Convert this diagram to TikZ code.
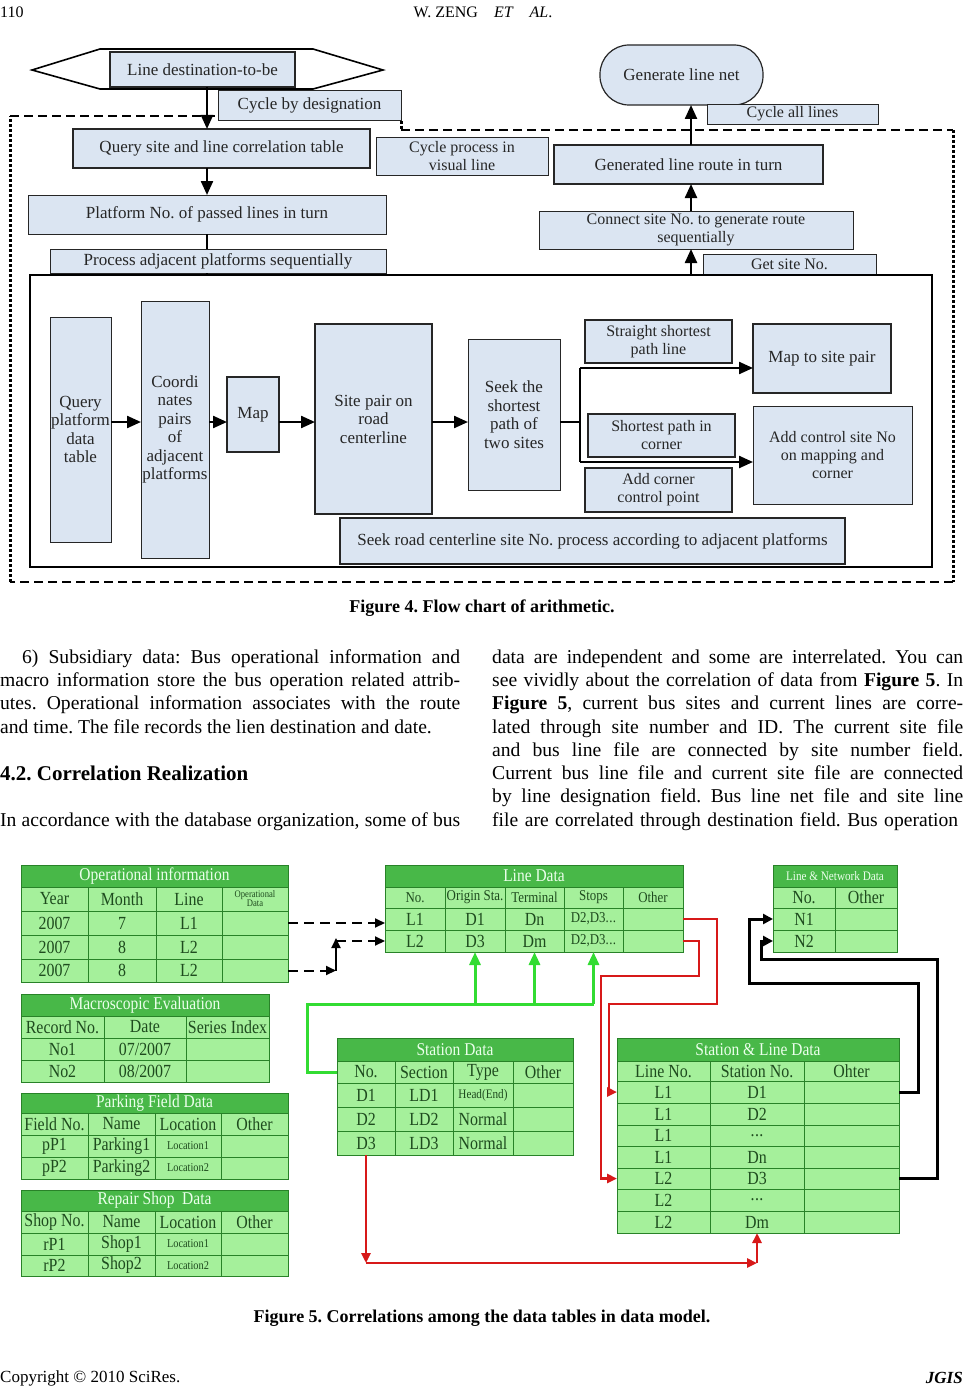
\documentclass[tikz,border=0pt]{standalone}
\usepackage{fontspec}
\setmainfont{Liberation Serif}
\newfontfamily\tabfont[FakeStretch=0.86]{Liberation Serif}
\usetikzlibrary{arrows.meta}
\definecolor{fcblue}{RGB}{219,229,242}
\definecolor{ttlg}{RGB}{72,184,72}
\definecolor{cellg}{RGB}{165,240,155}
\definecolor{gridg}{RGB}{40,130,40}
\definecolor{txtg}{RGB}{30,75,30}
\definecolor{garr}{RGB}{50,220,50}
\definecolor{rarr}{RGB}{215,25,25}
\newcommand\mkbox[7][]{\node[#1,minimum width={(#5-#3)*1pt},minimum height={(#6-#4)*1pt}] (#2) at ({(#3+#5)/2},{(#4+#6)/2}) {#7};}
\newcommand\threedots{.\kern0.5pt.\kern0.5pt.}
\frenchspacing
\begin{document}
\begin{tikzpicture}[x=1pt,y=-1pt,
 fcb/.style={draw=black!85, fill=fcblue, line width=0.9pt, inner sep=0pt, outer sep=0pt, align=center, text=black!85, font=\fontsize{17}{18.5}\selectfont},
 fcs/.style={fcb, font=\fontsize{16}{18}\selectfont},
 innerbox/.style={draw=black, line width=2.6pt, inner sep=0pt, outer sep=0pt},
 ttl/.style={draw=gridg, fill=ttlg, line width=0.8pt, inner sep=0pt, outer sep=0pt, text=white!92!green, font=\tabfont\fontsize{18}{18}\selectfont},
 ttlsmall/.style={ttl, font=\tabfont\fontsize{13}{14}\selectfont},
 tcell/.style={draw=gridg, fill=cellg, line width=0.8pt, inner sep=0pt, outer sep=0pt, align=center, text=txtg, font=\tabfont\fontsize{18.5}{18}\selectfont},
 tcellmid/.style={tcell, font=\tabfont\fontsize{15}{15}\selectfont},
 tcellsmall/.style={tcell, font=\tabfont\fontsize{12}{12}\selectfont},
 tcelltiny/.style={tcell, font=\tabfont\fontsize{10}{9}\selectfont},
 fcarr/.style={line width=2.3pt, -{Triangle[length=14pt,width=12pt]}},
 fcline/.style={line width=2.3pt},
 hdash/.style={line width=2.5pt, dash pattern=on 9pt off 5pt},
 vdash/.style={line width=3pt, dash pattern=on 3pt off 2pt},
 bdash/.style={line width=2pt, dash pattern=on 10pt off 6pt, -{Triangle[length=10pt,width=9pt]}},
 barr/.style={line width=2pt, -{Triangle[length=10pt,width=9pt]}},
 blkarr/.style={line width=3pt, -{Triangle[length=10pt,width=10pt]}},
 garrow/.style={draw=garr, line width=3pt, -{Triangle[length=13pt,width=11pt]}},
 gline/.style={draw=garr, line width=3pt},
 rline/.style={draw=rarr, line width=2.5pt, -{Triangle[length=10pt,width=9pt]}},
 bodytxt/.style={anchor=base west, inner sep=0pt, font=\fontsize{19.6}{23}\selectfont},
 captxt/.style={inner sep=0pt, font=\bfseries\fontsize{18}{20}\selectfont}
]
\fill[white] (0,0) rectangle (965,1386);
\useasboundingbox (0,0) rectangle (965,1386);

% ---------- header ----------
\node[anchor=west,inner sep=0pt,font=\fontsize{16}{16}\selectfont] (pgno) at (0,12) {110};
\node[inner sep=0pt,font=\fontsize{16}{16}\selectfont] (runhead) at (483,12) {W. ZENG\quad\textit{ET}\quad\textit{AL}.};

% ---------- Figure 4 ----------
\coordinate (d1) at (10,116); \coordinate (d2) at (216,116);
\coordinate (d3) at (401,121); \coordinate (d4) at (401,130);
\coordinate (d5) at (953,130); \coordinate (d6) at (953,582);
\coordinate (d7) at (10,582);
\draw[hdash] (d1) -- (d2);
\draw[vdash] (d3) -- (d4);
\draw[hdash] (d4) -- (d5);
\draw[vdash] (d5) -- (d6);
\draw[hdash] (d6) -- (d7);
\draw[vdash] (d7) -- (d1);

\draw[line width=1.6pt, fill=white] (32,70) -- (100,49) -- (313,49) -- (383,70) -- (313,89) -- (100,89) -- cycle;
\mkbox[fcb,line width=2.2pt]{ld}{110}{52}{295}{87}{Line destination-to-be}
\mkbox[fcb]{cbd}{218}{90}{401}{120}{Cycle by designation}
\mkbox[fcb,line width=1.5pt]{qs}{73}{129}{370}{168}{Query site and line correlation table}
\mkbox[fcb]{pn}{28}{195}{386}{234}{Platform No. of passed lines in turn}
\mkbox[fcb]{pa}{50}{249}{386}{273}{Process adjacent platforms sequentially}
\mkbox[fcs]{cpv}{376}{137}{548}{175}{Cycle process in\\visual line}
\mkbox[fcb,rounded corners=29pt,line width=1.2pt]{gln}{600}{45}{763}{105}{Generate line net}
\mkbox[fcs]{cal}{707}{104}{878}{124}{Cycle all lines}
\mkbox[fcb,line width=1.5pt]{glr}{554}{145}{823}{184}{Generated line route in turn}
\mkbox[fcs]{cs}{539}{211}{853}{249}{Connect site No. to generate route\\sequentially}
\mkbox[fcs]{gs}{703}{254}{876}{275}{Get site No.}
\mkbox[innerbox]{inner}{30}{275}{932}{567}{}

\mkbox[fcb]{qp}{50}{317}{111}{542}{Query\\platform\\data\\table}
\mkbox[fcb]{cp}{141}{301}{209}{558}{Coordi\\nates\\pairs\\of\\adjacent\\platforms}
\mkbox[fcb,line width=1.4pt]{mp}{227}{377}{279}{452}{Map}
\mkbox[fcb,line width=1.4pt]{sp}{315}{324}{432}{514}{Site pair on\\road\\centerline}
\mkbox[fcb]{sk}{468}{339}{560}{490}{Seek the\\shortest\\path of\\two sites}
\mkbox[fcb,line width=1.2pt]{sr}{340}{518}{845}{564}{Seek road centerline site No. process according to adjacent platforms}
\mkbox[fcs,line width=1.2pt]{ss}{585}{320}{732}{363}{Straight shortest\\path line}
\mkbox[fcb,line width=1.2pt]{mts}{753}{324}{891}{393}{Map to site pair}
\mkbox[fcs,line width=1.2pt]{spc}{588}{414}{735}{457}{Shortest path in\\corner}
\mkbox[fcs]{acs}{753}{406}{912}{504}{Add control site No\\on mapping and\\corner}
\mkbox[fcs,line width=1.2pt]{acc}{585}{468}{732}{512}{Add corner\\control point}

% Figure 4 connectors
\coordinate (ax) at (207,0);
\coordinate (rx) at (691,0);
\draw[fcarr] (ld.south -| ax) -- (qs.north -| ax);
\draw[fcarr] (qs.south -| ax) -- (pn.north -| ax);
\draw[fcline] (pn.south -| ax) -- (pa.north -| ax);
\draw[fcline] (pa.south -| ax) -- (inner.north -| ax);
\draw[fcarr] (inner.north -| rx) -- (cs.south -| rx);
\draw[fcarr] (cs.north -| rx) -- (glr.south -| rx);
\draw[fcarr] (glr.north -| rx) -- (gln.south -| rx);

\coordinate (ay) at (0,422);
\draw[fcarr] (qp.east |- ay) -- (cp.west |- ay);
\draw[fcarr] (cp.east |- ay) -- (mp.west |- ay);
\draw[fcarr] (mp.east |- ay) -- (sp.west |- ay);
\draw[fcarr] (sp.east |- ay) -- (sk.west |- ay);
\coordinate (bx) at (580,0);
\coordinate (by1) at (0,368);
\coordinate (by2) at (0,462);
\draw[fcline] (sk.east |- ay) -- (bx |- ay);
\draw[fcline] (bx |- by1) -- (bx |- by2);
\draw[fcarr] (bx |- by1) -- (mts.west |- by1);
\draw[fcarr] (bx |- by2) -- (acs.west |- by2);

\node[captxt] (cap4) at (482,608) {Figure 4. Flow chart of arithmetic.};

% ---------- body text ----------
\node[bodytxt] (l1) at (22,663) {\makebox[438pt][s]{6) Subsidiary data: Bus operational information and}};
\node[bodytxt] (l2) at (0,686) {\makebox[460pt][s]{macro information store the bus operation related attrib-}};
\node[bodytxt] (l3) at (0,709) {\makebox[460pt][s]{utes. Operational information associates with the route}};
\node[bodytxt] (l4) at (0,733) {and time. The file records the lien destination and date.};
\node[bodytxt,font=\bfseries\fontsize{21}{23}\selectfont] (h42) at (0,780) {4.2. Correlation Realization};
\node[bodytxt] (l5) at (0,826) {\makebox[460pt][s]{In accordance with the database organization, some of bus}};

\node[bodytxt] (r1) at (492,663) {\makebox[471pt][s]{data are independent and some are interrelated. You can}};
\node[bodytxt] (r2) at (492,686.3) {\makebox[471pt][s]{see vividly about the correlation of data from \textbf{Figure 5}. In}};
\node[bodytxt] (r3) at (492,709.6) {\makebox[471pt][s]{\textbf{Figure 5}, current bus sites and current lines are corre-}};
\node[bodytxt] (r4) at (492,733) {\makebox[471pt][s]{lated through site number and ID. The current site file}};
\node[bodytxt] (r5) at (492,756.2) {\makebox[471pt][s]{and bus line file are connected by site number field.}};
\node[bodytxt] (r6) at (492,779.5) {\makebox[471pt][s]{Current bus line file and current site file are connected}};
\node[bodytxt] (r7) at (492,802.8) {\makebox[471pt][s]{by line designation field. Bus line net file and site line}};
\node[bodytxt] (r8) at (492,826) {\makebox[466pt][s]{file are correlated through destination field. Bus operation}};

% ---------- Figure 5 tables ----------
% Operational information
\mkbox[ttl]{opT}{21}{865}{288}{887}{Operational information}
\foreach \a/\b/\t [count=\cj] in {21/88/Year,88/156/Month,156/222/Line}
  {\mkbox[tcell]{op-0-\cj}{\a}{887}{\b}{911}{\t}}
\mkbox[tcelltiny]{op-0-4}{222}{887}{288}{911}{Operational\\Data}
\foreach \ya/\yb/\m/\q [count=\ri] in {911/935/7/L1,935/959/8/L2,959/982/8/L2}{
  \mkbox[tcell]{op-\ri-1}{21}{\ya}{88}{\yb}{2007}
  \mkbox[tcell]{op-\ri-2}{88}{\ya}{156}{\yb}{\m}
  \mkbox[tcell]{op-\ri-3}{156}{\ya}{222}{\yb}{\q}
  \mkbox[tcell]{op-\ri-4}{222}{\ya}{288}{\yb}{}
}
% Macroscopic Evaluation
\mkbox[ttl]{meT}{21}{994}{269}{1016}{Macroscopic Evaluation}
\mkbox[tcell]{me-0-1}{21}{1016}{104}{1038}{Record No.}
\mkbox[tcell]{me-0-2}{104}{1016}{186}{1038}{Date}
\mkbox[tcell]{me-0-3}{186}{1016}{269}{1038}{Series Index}
\mkbox[tcell]{me-1-1}{21}{1038}{104}{1060}{No1}
\mkbox[tcell]{me-1-2}{104}{1038}{186}{1060}{07/2007}
\mkbox[tcell]{me-1-3}{186}{1038}{269}{1060}{}
\mkbox[tcell]{me-2-1}{21}{1060}{104}{1082}{No2}
\mkbox[tcell]{me-2-2}{104}{1060}{186}{1082}{08/2007}
\mkbox[tcell]{me-2-3}{186}{1060}{269}{1082}{}
% Parking Field Data
\mkbox[ttl]{pfT}{21}{1093}{288}{1113}{Parking Field Data}
\mkbox[tcell]{pf-0-1}{21}{1113}{88}{1135}{Field No.}
\mkbox[tcell]{pf-0-2}{88}{1113}{155}{1135}{Name}
\mkbox[tcell]{pf-0-3}{155}{1113}{221}{1135}{Location}
\mkbox[tcell]{pf-0-4}{221}{1113}{288}{1135}{Other}
\foreach \ya/\yb/\m/\q/\n [count=\ri] in {1135/1157/pP1/Parking1/Location1,1157/1179/pP2/Parking2/Location2}{
  \mkbox[tcell]{pf-\ri-1}{21}{\ya}{88}{\yb}{\m}
  \mkbox[tcell]{pf-\ri-2}{88}{\ya}{155}{\yb}{\q}
  \mkbox[tcellsmall]{pf-\ri-3}{155}{\ya}{221}{\yb}{\n}
  \mkbox[tcell]{pf-\ri-4}{221}{\ya}{288}{\yb}{}
}
% Repair Shop Data
\mkbox[ttl]{rsT}{21}{1190}{288}{1211}{Repair Shop\ \ Data}
\mkbox[tcell]{rs-0-1}{21}{1211}{88}{1233}{Shop No.}
\mkbox[tcell]{rs-0-2}{88}{1211}{155}{1233}{Name}
\mkbox[tcell]{rs-0-3}{155}{1211}{221}{1233}{Location}
\mkbox[tcell]{rs-0-4}{221}{1211}{288}{1233}{Other}
\foreach \ya/\yb/\m/\q/\n [count=\ri] in {1233/1255/rP1/Shop1/Location1,1255/1276/rP2/Shop2/Location2}{
  \mkbox[tcell]{rs-\ri-1}{21}{\ya}{88}{\yb}{\m}
  \mkbox[tcell]{rs-\ri-2}{88}{\ya}{155}{\yb}{\q}
  \mkbox[tcellsmall]{rs-\ri-3}{155}{\ya}{221}{\yb}{\n}
  \mkbox[tcell]{rs-\ri-4}{221}{\ya}{288}{\yb}{}
}
% Line Data
\mkbox[ttl]{ldT}{385}{865}{683}{887}{Line Data}
\mkbox[tcellmid]{ld-0-1}{385}{887}{445}{908}{No.}
\mkbox[tcellmid]{ld-0-2}{445}{887}{505}{908}{Origin Sta.}
\mkbox[tcellmid]{ld-0-3}{505}{887}{564}{908}{Terminal}
\mkbox[tcellmid]{ld-0-4}{564}{887}{623}{908}{Stops}
\mkbox[tcellmid]{ld-0-5}{623}{887}{683}{908}{Other}
\foreach \ya/\yb/\m/\q/\n [count=\ri] in {908/930/L1/D1/Dn,930/952/L2/D3/Dm}{
  \mkbox[tcell]{ld-\ri-1}{385}{\ya}{445}{\yb}{\m}
  \mkbox[tcell]{ld-\ri-2}{445}{\ya}{505}{\yb}{\q}
  \mkbox[tcell]{ld-\ri-3}{505}{\ya}{564}{\yb}{\n}
  \mkbox[tcellmid]{ld-\ri-4}{564}{\ya}{623}{\yb}{D2,D3\threedots}
  \mkbox[tcell]{ld-\ri-5}{623}{\ya}{683}{\yb}{}
}
% Line & Network Data
\mkbox[ttlsmall]{lnT}{773}{865}{897}{887}{Line \& Network Data}
\mkbox[tcell]{ln-0-1}{773}{887}{835}{908}{No.}
\mkbox[tcell]{ln-0-2}{835}{887}{897}{908}{Other}
\mkbox[tcell]{ln-1-1}{773}{908}{835}{930}{N1}
\mkbox[tcell]{ln-1-2}{835}{908}{897}{930}{}
\mkbox[tcell]{ln-2-1}{773}{930}{835}{952}{N2}
\mkbox[tcell]{ln-2-2}{835}{930}{897}{952}{}
% Station Data
\mkbox[ttl]{sdT}{337}{1038}{573}{1061}{Station Data}
\mkbox[tcell]{sd-0-1}{337}{1061}{395}{1083}{No.}
\mkbox[tcell]{sd-0-2}{395}{1061}{453}{1083}{Section}
\mkbox[tcell]{sd-0-3}{453}{1061}{513}{1083}{Type}
\mkbox[tcell]{sd-0-4}{513}{1061}{573}{1083}{Other}
\foreach \ya/\yb/\m/\q [count=\ri] in {1083/1107/D1/LD1,1107/1131/D2/LD2,1131/1155/D3/LD3}{
  \mkbox[tcell]{sd-\ri-1}{337}{\ya}{395}{\yb}{\m}
  \mkbox[tcell]{sd-\ri-2}{395}{\ya}{453}{\yb}{\q}
  \mkbox[tcell]{sd-\ri-3}{453}{\ya}{513}{\yb}{}
  \mkbox[tcell]{sd-\ri-4}{513}{\ya}{573}{\yb}{}
}
\node[tcellsmall,draw=none,fill=none,font=\tabfont\fontsize{13}{13}\selectfont] (sdty1) at (sd-1-3) {Head(End)};
\node[tcell,draw=none,fill=none] (sdty2) at (sd-2-3) {Normal};
\node[tcell,draw=none,fill=none] (sdty3) at (sd-3-3) {Normal};
% Station & Line Data
\mkbox[ttl]{slT}{617}{1038}{899}{1061}{Station \& Line Data}
\mkbox[tcell]{sl-0-1}{617}{1061}{710}{1081}{Line No.}
\mkbox[tcell]{sl-0-2}{710}{1061}{804}{1081}{Station No.}
\mkbox[tcell]{sl-0-3}{804}{1061}{899}{1081}{Ohter}
\foreach \ya/\yb/\m/\q [count=\ri] in {1081/1103/L1/D1,1103/1125/L1/D2,1125/1146/L1/\threedots,1146/1168/L1/Dn,1168/1189/L2/D3,1189/1211/L2/\threedots,1211/1233/L2/Dm}{
  \mkbox[tcell]{sl-\ri-1}{617}{\ya}{710}{\yb}{\m}
  \mkbox[tcell]{sl-\ri-2}{710}{\ya}{804}{\yb}{\q}
  \mkbox[tcell]{sl-\ri-3}{804}{\ya}{899}{\yb}{}
}

% ---------- Figure 5 connectors ----------
\draw[bdash] (op-1-4.east) -- (ld-1-1.west |- op-1-4.east);
\coordinate (elb) at (336,0);
\draw[bdash] (op-3-4.east) -- (op-3-4.east -| elb);
\draw[barr] (op-3-4.east -| elb) -- ([yshift=3pt]ld-2-1.west -| elb);
\draw[bdash] (ld-2-1.west -| elb) -- (ld-2-1.west);

\coordinate (gL) at (307,1004);
\coordinate (gR) at (ld-2-4.south |- gL);
\draw[gline] (sd-0-1.west) -| (gL) -- (gR);
\draw[garrow] (ld-2-2.south |- gL) -- (ld-2-2.south);
\draw[garrow] (ld-2-3.south |- gL) -- (ld-2-3.south);
\draw[garrow] (ld-2-4.south |- gL) -- (ld-2-4.south);

\coordinate (r1a) at (717,1004); \coordinate (r1b) at (609,1004);
\coordinate (r2a) at (699,976); \coordinate (r2b) at (601,976);
\draw[rline] (ld-1-5.east) -| (r1a) -- (r1b) |- (sl-1-1.west);
\draw[rline] (ld-2-5.east) -| (r2a) -- (r2b) |- (sl-5-1.west);
\coordinate (rbot) at (0,1263);
\draw[rline] (sd-3-1.south) -- (sd-3-1.south |- rbot);
\draw[rline] (sd-3-1.south |- rbot) -- (sl-7-2.south |- rbot);
\draw[rline] (sl-7-2.south |- rbot) -- (sl-7-2.south);

\coordinate (b1a) at (918,983); \coordinate (b1b) at (749,983);
\coordinate (b2a) at (937,959); \coordinate (b2b) at (761,959);
\draw[blkarr] (sl-1-3.east) -| (b1a) -- (b1b) |- (ln-1-1.west);
\draw[blkarr] (sl-5-3.east) -| (b2a) -- (b2b) |- (ln-2-1.west);

\node[captxt] (cap5) at (482,1318) {Figure 5. Correlations among the data tables in data model.};

% ---------- footer ----------
\node[anchor=west,inner sep=0pt,font=\fontsize{17}{17}\selectfont] (copy) at (0,1378) {Copyright \textcopyright\ 2010 SciRes.};
\node[anchor=east,inner sep=0pt,font=\bfseries\itshape\fontsize{17}{17}\selectfont] (jgis) at (963,1378) {JGIS};
\end{tikzpicture}
\end{document}
